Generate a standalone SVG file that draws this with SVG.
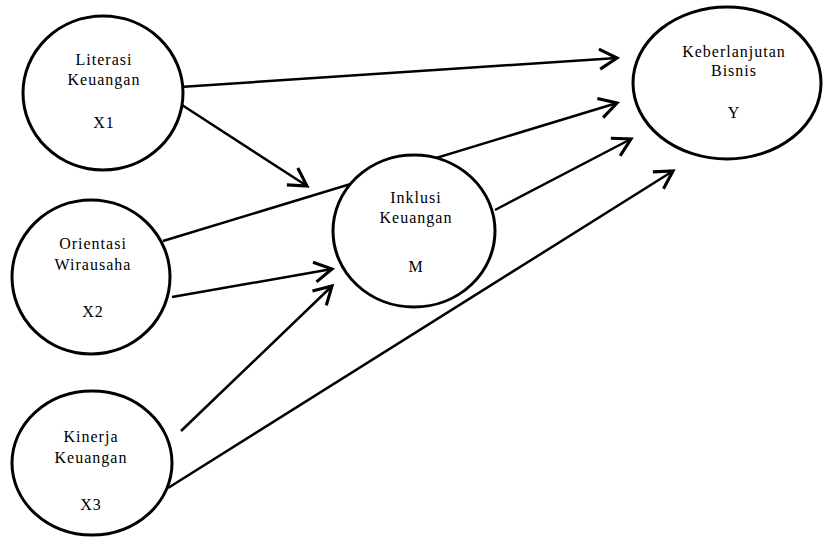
<svg xmlns="http://www.w3.org/2000/svg" width="823" height="541" viewBox="0 0 823 541">
<style>
.node{fill:#fff;stroke:#000;stroke-width:3}
.lbl{font-family:"Liberation Serif","Times New Roman",serif;font-size:16px;letter-spacing:1px;fill:#000;text-anchor:middle}
.edge{fill:none;stroke:#000;stroke-width:2.5}
</style>
<defs>
<marker id="arr" markerUnits="userSpaceOnUse" markerWidth="30" markerHeight="30" refX="0" refY="0" viewBox="-20 -12 24 24" orient="auto" overflow="visible">
<path d="M-14,-8 L0,0 L-14,8" fill="none" stroke="#000" stroke-width="2.5" stroke-linejoin="miter"/>
</marker>
</defs>
<rect width="823" height="541" fill="#fff"/>
<g id="connectors">
<line class="edge" x1="180" y1="87" x2="617" y2="58" marker-end="url(#arr)"/>
<line class="edge" x1="182" y1="105" x2="307" y2="186" marker-end="url(#arr)"/>
<line class="edge" x1="163" y1="241" x2="617" y2="103" marker-end="url(#arr)"/>
<line class="edge" x1="172" y1="297" x2="332" y2="269" marker-end="url(#arr)"/>
<line class="edge" x1="181" y1="431" x2="332" y2="286" marker-end="url(#arr)"/>
<line class="edge" x1="168" y1="488" x2="673" y2="171" marker-end="url(#arr)"/>
<line class="edge" x1="495" y1="210" x2="631" y2="139" marker-end="url(#arr)"/>
</g>
<g id="X1">
<ellipse class="node" cx="103" cy="93" rx="80" ry="77"/>
<text class="lbl" x="104" y="65">Literasi</text>
<text class="lbl" x="104" y="85">Keuangan</text>
<text class="lbl" x="104" y="128">X1</text>
</g>
<g id="X2">
<ellipse class="node" cx="91" cy="277" rx="79" ry="77"/>
<text class="lbl" x="93" y="249">Orientasi</text>
<text class="lbl" x="93" y="270">Wirausaha</text>
<text class="lbl" x="93" y="317">X2</text>
</g>
<g id="X3">
<ellipse class="node" cx="92" cy="463" rx="80" ry="72"/>
<text class="lbl" x="91" y="442">Kinerja</text>
<text class="lbl" x="91" y="463">Keuangan</text>
<text class="lbl" x="91" y="510">X3</text>
</g>
<g id="M">
<ellipse class="node" cx="414" cy="231" rx="81" ry="76"/>
<text class="lbl" x="416" y="203">Inklusi</text>
<text class="lbl" x="416" y="223">Keuangan</text>
<text class="lbl" x="416" y="272">M</text>
</g>
<g id="Y">
<ellipse class="node" cx="727" cy="83" rx="94" ry="76"/>
<text class="lbl" x="734" y="57">Keberlanjutan</text>
<text class="lbl" x="734" y="76">Bisnis</text>
<text class="lbl" x="734" y="118">Y</text>
</g>
</svg>
